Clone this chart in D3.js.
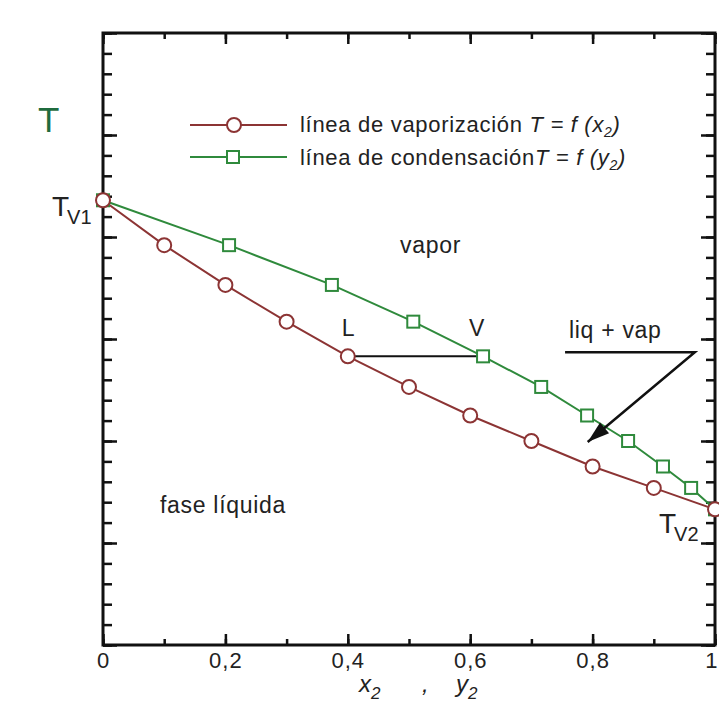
<!DOCTYPE html>
<head>
	<script type="text/javascript" src="https://cdn.jsdelivr.net/npm/d3@7"></script>
</head>
<style type="text/css">
body{
	margin: 0;
	background: #fff;
}
text{
	font-family: "Liberation Sans", Arial, sans-serif;
	fill: #222;
}
.lbl{
	font-size: 23px;
	letter-spacing: 0.7px;
}
.frame{
	fill: none;
	stroke: #111;
	stroke-width: 3px;
}
.tick line{
	stroke: #111;
	stroke-width: 2.5px;
}
.domain{
	display: none;
}
</style>
<body>
	<div class="viz"></div>
</body>
<script type="text/javascript">
// x2 (liquid) and y2 (vapour) mole fractions, T in arbitrary units
var x2 = [0, 0.1, 0.2, 0.3, 0.4, 0.5, 0.6, 0.7, 0.8, 0.9, 1.0];
var y2 = [0, 0.206, 0.374, 0.507, 0.621, 0.716, 0.791, 0.858, 0.915, 0.961, 1.0];
var temps = [4.36, 3.92, 3.53, 3.17, 2.83, 2.53, 2.25, 2.0, 1.75, 1.54, 1.33];
var xTickValues = [0, 0.2, 0.4, 0.6, 0.8, 1];
var xTickLabels = ["0", "0,2", "0,4", "0,6", "0,8", "1"];
var tieIndex = 4;

var red = "#8c3434";
var green = "#2f8a3c";

var svg = d3.select(".viz").append("svg").attr("width", 719).attr("height", 728);

var xscale = d3.scaleLinear().domain([0, 1]).range([103, 715]);
var yscale = d3.scaleLinear().domain([0, 6]).range([645, 33]);

// ticks, all pointing inward
var minorX = d3.range(0, 1.0001, 0.1);
var minorY = d3.range(0, 6.0001, 0.2);
var majorY = d3.range(0, 7, 1);

svg.append("g").attr("transform", "translate(0,645)")
	.call(d3.axisBottom(xscale).tickValues(minorX).tickSize(-6).tickFormat(""));
var xax = svg.append("g").attr("transform", "translate(0,645)")
	.call(d3.axisBottom(xscale).tickValues(xTickValues).tickSizeInner(-11).tickSizeOuter(0).tickPadding(7)
		.tickFormat(function(d, i){ return xTickLabels[i]; }));
xax.selectAll("text").style("font-size", "22px").style("letter-spacing", "1px").attr("fill", "#333");
// last label sits against the right edge
xax.selectAll("text").filter(function(d){ return d === 1; }).attr("text-anchor", "end").attr("dx", 3);
svg.append("g").attr("transform", "translate(0,33)")
	.call(d3.axisTop(xscale).tickValues(minorX).tickSize(-6).tickFormat(""));
svg.append("g").attr("transform", "translate(0,33)")
	.call(d3.axisTop(xscale).tickValues(xTickValues).tickSize(-11).tickFormat(""));

svg.append("g").attr("transform", "translate(103,0)")
	.call(d3.axisLeft(yscale).tickValues(minorY).tickSize(-9).tickFormat(""));
svg.append("g").attr("transform", "translate(103,0)")
	.call(d3.axisLeft(yscale).tickValues(majorY).tickSize(-14).tickFormat(""));
svg.append("g").attr("transform", "translate(715,0)")
	.call(d3.axisRight(yscale).tickValues(minorY).tickSize(-9).tickFormat(""));
svg.append("g").attr("transform", "translate(715,0)")
	.call(d3.axisRight(yscale).tickValues(majorY).tickSize(-14).tickFormat(""));

svg.append("rect").attr("class", "frame")
	.attr("x", xscale(0)).attr("y", yscale(6))
	.attr("width", xscale(1) - xscale(0)).attr("height", yscale(0) - yscale(6));

var liq = x2.map(function(d, i){ return [d, temps[i]]; });
var vap = y2.map(function(d, i){ return [d, temps[i]]; });
var line = d3.line().x(function(d){ return xscale(d[0]); }).y(function(d){ return yscale(d[1]); });

// tie line L - V
svg.append("line")
	.attr("x1", xscale(x2[tieIndex])).attr("y1", yscale(temps[tieIndex]))
	.attr("x2", xscale(y2[tieIndex])).attr("y2", yscale(temps[tieIndex]))
	.attr("stroke", "#111").attr("stroke-width", 2);

svg.append("path").datum(vap).attr("d", line).attr("fill", "none").attr("stroke", green).attr("stroke-width", 2);
svg.append("path").datum(liq).attr("d", line).attr("fill", "none").attr("stroke", red).attr("stroke-width", 2);

svg.selectAll(".sq").data(vap).enter().append("rect").attr("class", "sq")
	.attr("x", function(d){ return xscale(d[0]) - 6; }).attr("y", function(d){ return yscale(d[1]) - 6; })
	.attr("width", 12).attr("height", 12)
	.attr("fill", "#fff").attr("stroke", green).attr("stroke-width", 2);
svg.selectAll(".circ").data(liq).enter().append("circle").attr("class", "circ")
	.attr("cx", function(d){ return xscale(d[0]); }).attr("cy", function(d){ return yscale(d[1]); })
	.attr("r", 7)
	.attr("fill", "#fff").attr("stroke", red).attr("stroke-width", 2);

// legend
var lg = svg.append("g");
lg.append("line").attr("x1", 190).attr("x2", 287).attr("y1", 125).attr("y2", 125).attr("stroke", red).attr("stroke-width", 2);
lg.append("circle").attr("cx", 234).attr("cy", 125).attr("r", 7).attr("fill", "#fff").attr("stroke", red).attr("stroke-width", 2);
lg.append("line").attr("x1", 190).attr("x2", 287).attr("y1", 157).attr("y2", 157).attr("stroke", green).attr("stroke-width", 2);
lg.append("rect").attr("x", 227).attr("y", 151).attr("width", 12).attr("height", 12).attr("fill", "#fff").attr("stroke", green).attr("stroke-width", 2);

var t1 = lg.append("text").attr("class", "lbl").attr("x", 300).attr("y", 132).style("font-size", "22px");
t1.append("tspan").text("línea de vaporización ");
t1.append("tspan").style("font-style", "italic").text("T = f (x");
t1.append("tspan").style("font-style", "italic").style("font-size", "14px").attr("dy", 5).text("2");
t1.append("tspan").style("font-style", "italic").attr("dy", -5).text(")");
var t2 = lg.append("text").attr("class", "lbl").attr("x", 300).attr("y", 165).style("font-size", "22px");
t2.append("tspan").text("línea de condensación");
t2.append("tspan").style("font-style", "italic").text("T = f (y");
t2.append("tspan").style("font-style", "italic").style("font-size", "14px").attr("dy", 5).text("2");
t2.append("tspan").style("font-style", "italic").attr("dy", -5).text(")");

// labels
svg.append("text").attr("x", 38).attr("y", 132).style("font-size", "35px").style("fill", "#1f6b3e").text("T");
var tv1 = svg.append("text").attr("x", 52).attr("y", 216).style("font-size", "28px");
tv1.append("tspan").text("T");
tv1.append("tspan").style("font-size", "20px").attr("dx", -2).attr("dy", 8).text("V1");
var tv2 = svg.append("text").attr("x", 659).attr("y", 533).style("font-size", "28px");
tv2.append("tspan").text("T");
tv2.append("tspan").style("font-size", "20px").attr("dx", -2).attr("dy", 8).text("V2");

svg.append("text").attr("class", "lbl").attr("x", 400).attr("y", 253).text("vapor");
svg.append("text").attr("class", "lbl").attr("x", xscale(x2[tieIndex]) - 6).attr("y", 336).text("L");
svg.append("text").attr("class", "lbl").attr("x", xscale(y2[tieIndex]) - 14).attr("y", 336).text("V");
svg.append("text").attr("class", "lbl").attr("x", 160).attr("y", 513).text("fase líquida");
svg.append("text").attr("class", "lbl").attr("x", 569).attr("y", 338).text("liq + vap");

// arrow for liq + vap
var arrowPts = [[0.755, 2.87], [0.967, 2.87], [0.792, 1.99]];
svg.append("path").datum(arrowPts).attr("d", line).attr("fill", "none").attr("stroke", "#111").attr("stroke-width", 2.5);
var tip = [xscale(0.792), yscale(1.99)];
var from = [xscale(0.967), yscale(2.87)];
var ang = Math.atan2(from[1] - tip[1], from[0] - tip[0]);
var hl = 22, hw = 7;
var bx = tip[0] + hl * Math.cos(ang), by = tip[1] + hl * Math.sin(ang);
svg.append("path")
	.attr("d", "M" + tip[0] + "," + tip[1] +
		"L" + (bx + hw * Math.sin(ang)) + "," + (by - hw * Math.cos(ang)) +
		"L" + (bx - hw * Math.sin(ang)) + "," + (by + hw * Math.cos(ang)) + "Z")
	.attr("fill", "#111");

// axis title
var xt = svg.append("text").attr("x", 359).attr("y", 692).style("font-size", "24px").style("font-style", "italic").attr("fill", "#333");
xt.append("tspan").text("x");
xt.append("tspan").style("font-size", "17px").attr("dy", 7).text("2");
xt.append("tspan").attr("dy", -7).attr("x", 422).text(",");
xt.append("tspan").attr("x", 456).text("y");
xt.append("tspan").style("font-size", "17px").attr("dy", 7).text("2");
</script>
